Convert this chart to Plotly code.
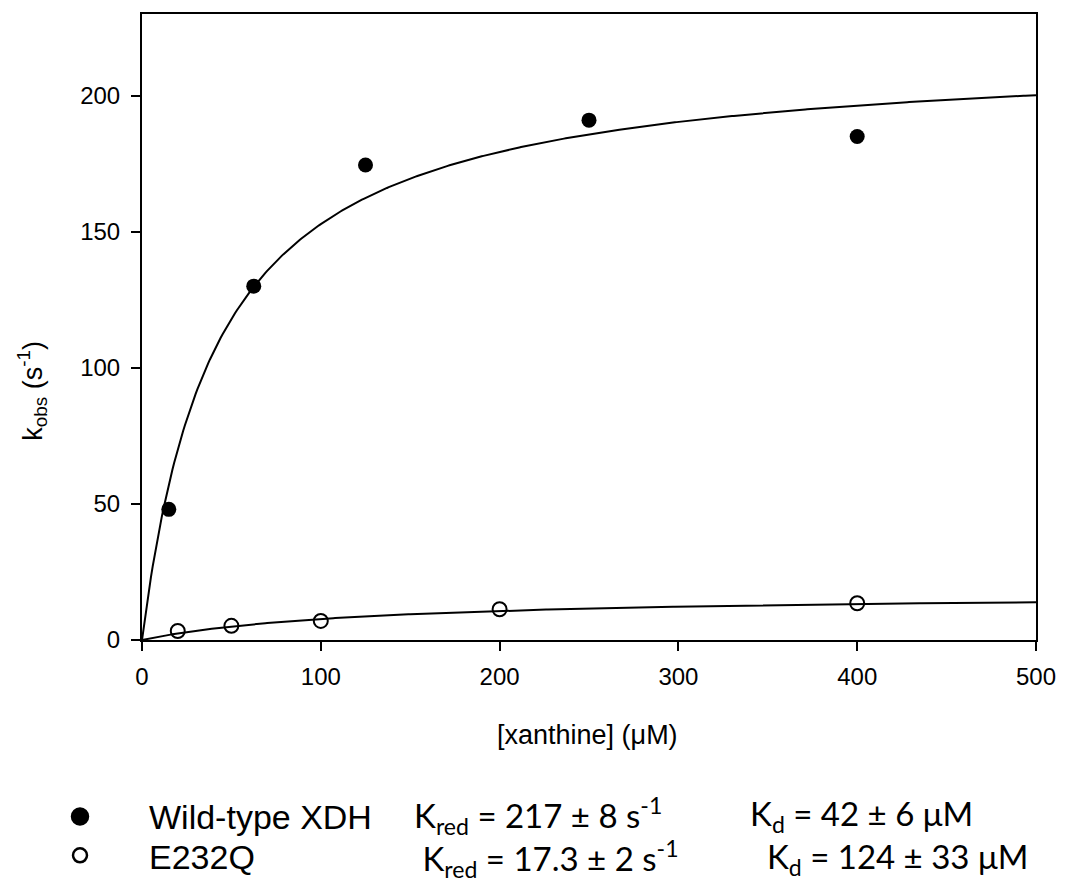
import numpy as np
import plotly.graph_objects as go

# Data
wt_x = [15, 62.5, 125, 250, 400]
wt_y = [48, 130, 174.5, 191, 185]
mut_x = [20, 50, 100, 200, 400]
mut_y = [3.3, 5.2, 7.0, 11.3, 13.5]

# Hyperbolic fit parameters shown in the figure
wt_kred, wt_kd = 217, 42
mut_kred, mut_kd = 17.3, 124

x_ticks = [0, 100, 200, 300, 400, 500]
y_ticks = [0, 50, 100, 150, 200]

xfit = np.linspace(0, 500, 501)
wt_fit = wt_kred * xfit / (wt_kd + xfit)
mut_fit = mut_kred * xfit / (mut_kd + xfit)

fig = go.Figure()
fig.add_trace(go.Scatter(x=xfit, y=wt_fit, mode="lines", line=dict(color="black", width=2), hoverinfo="skip"))
fig.add_trace(go.Scatter(x=xfit, y=mut_fit, mode="lines", line=dict(color="black", width=2), hoverinfo="skip"))
fig.add_trace(go.Scatter(x=wt_x, y=wt_y, mode="markers",
                         marker=dict(symbol="circle", size=15, color="black")))
fig.add_trace(go.Scatter(x=mut_x, y=mut_y, mode="markers",
                         marker=dict(symbol="circle-open", size=14, color="black", line=dict(width=2))))

FONT = "Liberation Sans, Arial"
axis_common = dict(showline=True, linecolor="black", linewidth=2, mirror=True,
                   ticks="outside", ticklen=9, tickwidth=2, tickcolor="black",
                   showgrid=False, zeroline=False,
                   tickfont=dict(family=FONT, size=24, color="black"))
fig.update_xaxes(range=[0, 500], tickvals=x_ticks, ticklabelstandoff=5, **axis_common)
fig.update_yaxes(range=[0, 230], tickvals=y_ticks, ticklabelstandoff=6, **axis_common)

fig.update_layout(
    width=1092, height=888,
    margin=dict(l=142, r=56, t=12, b=248),
    plot_bgcolor="white", paper_bgcolor="white",
    showlegend=False,
)

NB = "&nbsp;"
ann = []
ann.append(dict(text="[xanthine] (μM)", x=587, y=735,
                font=dict(family=FONT, size=27, color="black")))
ann.append(dict(text="k<sub>obs</sub> (s<sup>-1</sup>)", x=32, y=390, textangle=-90,
                font=dict(family=FONT, size=27, color="black")))
ann.append(dict(text="Wild-type XDH", x=147, y=818, xanchor="left",
                font=dict(family=FONT, size=34, color="black")))
ann.append(dict(text="E232Q", x=147, y=858, xanchor="left",
                font=dict(family=FONT, size=34, color="black")))
KF = dict(family="Lato", size=33, color="black")
ann.append(dict(text="K<sub>red</sub> = 217 ± 8 s<sup>-1</sup><br>" + NB + "K<sub>red</sub> = 17.3 ± 2 s<sup>-1</sup>",
                x=412, y=838, xanchor="left", align="left", font=KF))
ann.append(dict(text="K<sub>d</sub> = 42 ± 6 μM<br>" + NB * 2 + "K<sub>d</sub> = 124 ± 33 μM",
                x=748, y=838, xanchor="left", align="left", font=KF))

# convert pixel coords to paper
W, H = 1092, 888
pw, ph = W - 142 - 56, H - 12 - 248
for a in ann:
    a["showarrow"] = False
    a["xref"] = "paper"; a["yref"] = "paper"
    a["x"] = (a["x"] - 142) / pw
    a["y"] = (H - 248 - a["y"]) / ph
    a.setdefault("yanchor", "middle")
    a.setdefault("xanchor", "center")
fig.update_layout(annotations=ann)

def px(xp, yp):
    return (xp - 142) / pw, (H - 248 - yp) / ph

# legend symbols
for (cx, cy, r, filled) in [(80, 817, 8, True), (80, 856, 7, False)]:
    x0, y0 = px(cx - r, cy - r)
    x1, y1 = px(cx + r, cy + r)
    fig.add_shape(type="circle", xref="paper", yref="paper", x0=x0, x1=x1, y0=y1, y1=y0,
                  fillcolor="black" if filled else "white", line=dict(color="black", width=2.5))

fig.write_html("out.html")
